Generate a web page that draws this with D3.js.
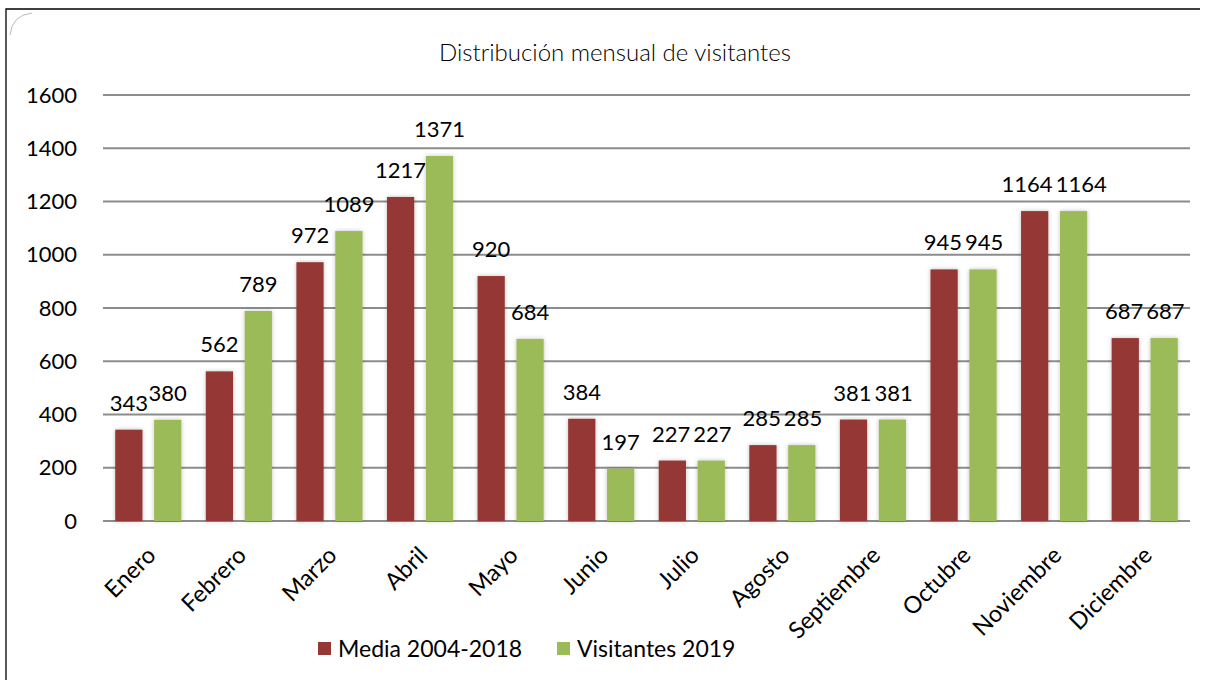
<!DOCTYPE html>
<html><head><meta charset="utf-8">
<script src="https://cdn.jsdelivr.net/npm/d3@7"></script>
<style>body{margin:0;background:#fff}svg{display:block}text{font-family:Lato,"Open Sans",sans-serif}</style>
</head><body><svg id="c" width="1205" height="680"></svg>
<script>
const categories=["Enero","Febrero","Marzo","Abril","Mayo","Junio","Julio","Agosto","Septiembre","Octubre","Noviembre","Diciembre"];
const seriesNames=["Media 2004-2018","Visitantes 2019"];
const media=[343,562,972,1217,920,384,227,285,381,945,1164,687];
const visitantes2019=[380,789,1089,1371,684,197,227,285,381,945,1164,687];
const yTicks=[0,200,400,600,800,1000,1200,1400,1600];
const colors=["#953735","#9BBB59"];
const title="Distribución mensual de visitantes";

const svg=d3.select("#c");
const defs=svg.append("defs");
const f=defs.append("filter").attr("id","sh").attr("x","-30%").attr("y","-10%").attr("width","160%").attr("height","120%");
f.append("feDropShadow").attr("dx",0).attr("dy",0).attr("stdDeviation",2).attr("flood-color","#000").attr("flood-opacity",0.25);

// frame
svg.append("path").attr("d","M6,680 L6,9 L1200,9").attr("fill","none").attr("stroke","#000").attr("stroke-width",1.3);
svg.append("path").attr("d","M10,35 Q12,15 32,13").attr("fill","none").attr("stroke","#bbb").attr("stroke-width",1);

const L=103,R=1190,T=95,B=521;
const x=d3.scaleBand().domain(categories).range([L,R]).paddingInner(0.27).paddingOuter(0.135);
const x1=d3.scaleBand().domain(seriesNames).range([0,x.bandwidth()]).paddingInner(0.3);
const y=d3.scaleLinear().domain([0,1600]).range([B,T]);

svg.append("text").attr("x",615).attr("y",61).attr("text-anchor","middle").attr("font-size",24).attr("fill","#000")
 .style("font-weight",300).text(title);

// grid
svg.append("g").selectAll("line").data(yTicks).join("line")
 .attr("x1",L).attr("x2",R).attr("y1",d=>y(d)).attr("y2",d=>y(d)).attr("stroke","#8c8c8c").attr("stroke-width",2);
const yAxis=svg.append("g").attr("transform",`translate(${L},0)`)
 .call(d3.axisLeft(y).tickValues(yTicks).tickFormat(d3.format("d")).tickSize(0).tickPadding(26));
yAxis.select(".domain").remove();
yAxis.selectAll("text").attr("font-size",22).attr("fill","#000").style("font-family","Lato,sans-serif");

const data=categories.map((c,i)=>({c,vals:[media[i],visitantes2019[i]]}));
const g=svg.append("g").selectAll("g").data(data).join("g").attr("transform",d=>`translate(${x(d.c)},0)`);
g.selectAll("rect").data(d=>d.vals.map((v,j)=>({v,s:seriesNames[j],j}))).join("rect")
 .attr("x",d=>x1(d.s)).attr("width",x1.bandwidth()).attr("y",d=>y(d.v)).attr("height",d=>B-y(d.v))
 .attr("fill",d=>colors[d.j]).attr("filter","url(#sh)");
g.each(function(){
 const grp=d3.select(this);
 const labels=grp.selectAll("text").data(d=>d.vals.map((v,j)=>({v,s:seriesNames[j],j}))).join("text")
  .attr("x",d=>x1(d.s)+x1.bandwidth()/2).attr("y",d=>y(d.v)-19).attr("text-anchor","middle")
  .attr("font-size",22).attr("fill","#000").text(d=>d.v);
 const n=labels.nodes();
 const b0=n[0].getBBox(), b1=n[1].getBBox();
 const ov=b0.x+b0.width-b1.x;
 if(ov>-2 && Math.abs(b0.y-b1.y)<3){
  d3.select(n[0]).attr("x",+d3.select(n[0]).attr("x")-(ov+3)/2);
  d3.select(n[1]).attr("x",+d3.select(n[1]).attr("x")+(ov+3)/2);
 }
});

// x axis labels
const xa=svg.append("g").attr("transform",`translate(0,${B})`).call(d3.axisBottom(x).tickSize(0).tickPadding(0));
xa.select(".domain").remove();
xa.selectAll("text").attr("text-anchor","end").attr("font-size",23.5).attr("fill","#000")
 .attr("transform","translate(3,30) rotate(-45)").attr("dy","0.35em");

// legend
const lg=svg.append("g").attr("transform","translate(318,642)");
const items=[{n:seriesNames[0],x:0,c:colors[0]},{n:seriesNames[1],x:239,c:colors[1]}];
items.forEach(it=>{
 lg.append("rect").attr("x",it.x).attr("y",0).attr("width",13).attr("height",13).attr("fill",it.c);
 lg.append("text").attr("x",it.x+20).attr("y",15).attr("font-size",23).attr("fill","#000").text(it.n);
});
</script></body></html>
